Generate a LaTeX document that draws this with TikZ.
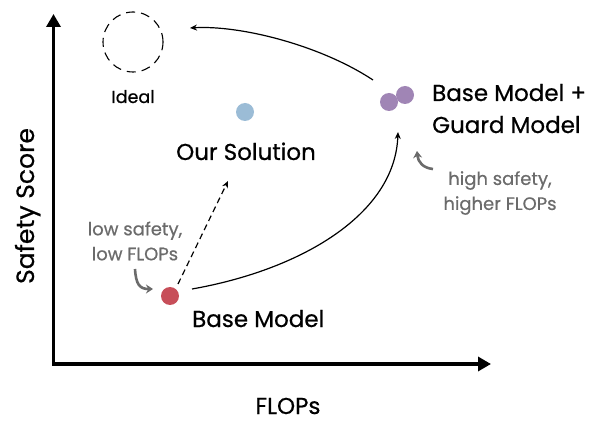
\documentclass[tikz,border=0pt]{standalone}
\usepackage{fontspec}
\setmainfont{Poppins}[BoldFont=Poppins, BoldFeatures={FakeBold=0.6}]
\usepackage{xcolor}
\usetikzlibrary{arrows.meta,positioning,calc}
\definecolor{baseRed}{HTML}{C74E59}
\definecolor{oursBlue}{HTML}{9BBCD6}
\definecolor{guardPurple}{HTML}{A085B5}
\definecolor{noteGray}{HTML}{6B6B6B}

\begin{document}
\begin{tikzpicture}[x=1pt,y=-1pt,
        dot/.style = {circle, inner sep=0pt, minimum size=18pt},
        biglabel/.style = {font=\fontsize{23}{26}\selectfont\bfseries, inner sep=0pt},
        note/.style = {font=\fontsize{18}{25}\selectfont\bfseries, text=noteGray, align=center, inner sep=0pt},
        axislabel/.style = {font=\fontsize{23}{26}\selectfont\bfseries, inner sep=0pt},
        link/.style = {line width=1.2pt, -{Stealth[length=7pt,width=6pt]}},
        hook/.style = {line width=2.6pt, noteGray, -{Stealth[length=7pt,width=9pt]}}]
        \useasboundingbox (0,0) rectangle (592,422);
        % axes
        \coordinate (ytop) at (53.5,14);
        \coordinate (origin) at (53.5,364);
        \coordinate (xend) at (491,364);
        \draw[line width=3.5pt, {Triangle[length=13pt,width=14pt]}-{Triangle[length=13pt,width=14pt]}] (ytop) -- (origin) -- (xend);
        \node[axislabel, anchor=base, text depth=0pt] (flops) at (288,414) {FLOPs};
        \node[axislabel, font=\fontsize{25}{28}\selectfont\bfseries, anchor=base, rotate=90] (safety) at (34,206) {Safety Score};

        % points
        \node[dot, draw, dash pattern=on 9pt off 6pt, line width=1.1pt, minimum size=60pt] (ideal) at (133,42) {};
        \node[font=\fontsize{17.5}{20}\selectfont\bfseries, anchor=base, inner sep=0pt] (ideallabel) at (133,103) {Ideal};
        \node[dot, fill=oursBlue] (ours) at (245,112) {};
        \node[biglabel, anchor=base] (ourslabel) at (246,160) {Our Solution};
        \node[dot, fill=baseRed] (base) at (170,296) {};
        \node[biglabel, anchor=base west] (baselabel) at (192,327) {Base Model};
        \node[dot, fill=guardPurple] (guardB) at (405,95) {};
        \node[dot, fill=guardPurple] (guardA) at (389,102) {};
        \node[biglabel, anchor=base west] (guardlabel1) at (432,101) {Base Model +};
        \node[biglabel, anchor=base west] (guardlabel2) at (432,133) {Guard Model};

        % notes
        \node[note] (lownote) at (135,241) {low safety,\\low FLOPs};
        \node[note] (highnote) at (500,193) {high safety,\\higher FLOPs};

        % connectors
        \coordinate (oursin) at (228,181);
        \coordinate (guardin) at (398,132);
        \coordinate (guardout) at (373,80);
        \coordinate (idealin) at (190,28);
        \draw[link, dash pattern=on 6pt off 4pt] ($(base)+(8,-12)$) -- (oursin);
        \draw[link] ($(base)+(22,-7)$) .. controls (300,270) and (395,215) .. (guardin);
        \draw[link] (guardout) .. controls (320,45) and (240,25) .. (idealin);
        \draw[hook] (135,269) .. controls (136,285) and (140,289) .. (153,289);
        \draw[hook] (433,169) .. controls (423,168) and (418,162) .. (417,151);
\end{tikzpicture}
\end{document}
